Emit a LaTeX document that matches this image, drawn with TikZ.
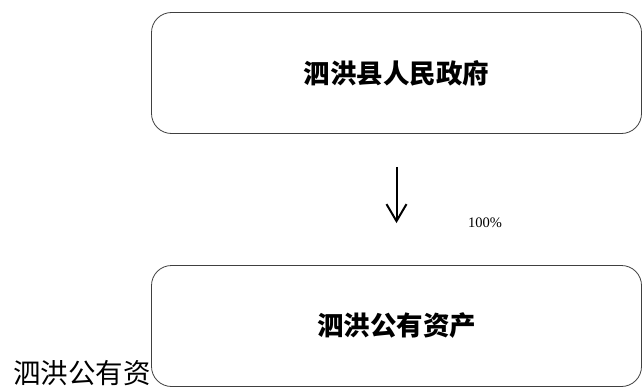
\documentclass[tikz,border=0pt]{standalone}
\usepackage{fontspec}
\setmainfont{Liberation Serif}
\newfontfamily\cjk{Noto Sans CJK SC}
\usetikzlibrary{arrows.meta}
\begin{document}
\begin{tikzpicture}[x=1pt,y=-1pt,
  orgbox/.style={draw=black!75, line width=0.8pt, rounded corners=20pt, fill=white,
    minimum width=490pt, minimum height=121pt, inner sep=0pt,
    font=\cjk\bfseries\fontsize{26.5}{26.5}\selectfont},
  arr/.style={line width=2pt, -{Straight Barb[length=17pt,width=20pt,line width=2pt]}}]
\useasboundingbox (0,0) rectangle (643,388);
\node[anchor=west, inner sep=0pt, font=\cjk\fontsize{27.5}{27.5}\selectfont] (lbl) at (13,373) {泗洪公有资};
\node[orgbox] (gov) at (396.5,73) {泗洪县人民政府};
\node[orgbox] (own) at (396.5,326) {泗洪公有资产};
\draw[arr, shorten <=33pt, shorten >=42pt] (gov.south) -- (own.north);
\node[font=\fontsize{14.5}{14.5}\selectfont, inner sep=0pt] (pct) at (485,223) {100\%};
\end{tikzpicture}
\end{document}
